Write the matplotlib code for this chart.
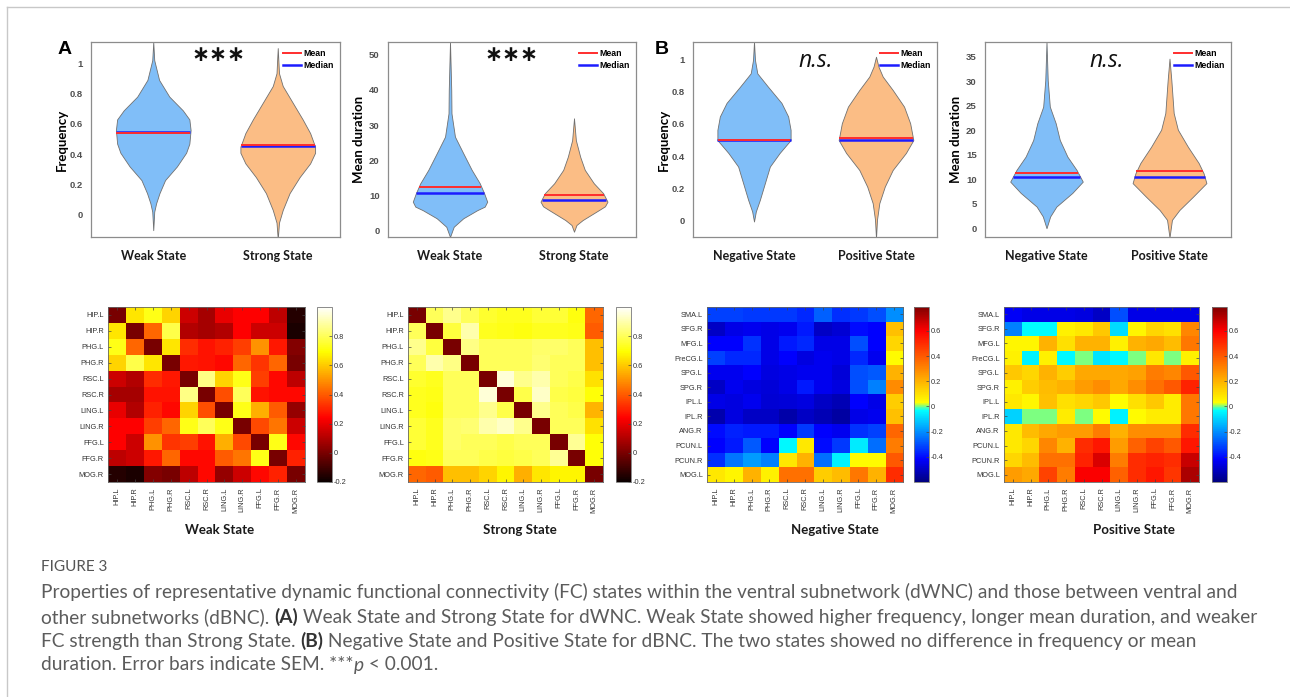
import numpy as np
import matplotlib
matplotlib.use('Agg')
import matplotlib.pyplot as plt
from matplotlib.colors import LinearSegmentedColormap
from matplotlib.lines import Line2D

W, H = 1290, 697

# ---- violin profiles: y levels and half widths (x units) ----
weak_freq_y = [1.14, 1.02, 0.89, 0.78, 0.69, 0.63, 0.56, 0.47, 0.41, 0.32, 0.23, 0.144, 0.077, 0.022, -0.10]
weak_freq_w = [0, 0.008, 0.047, 0.129, 0.237, 0.29, 0.30, 0.29, 0.264, 0.19, 0.095, 0.05, 0.023, 0.008, 0]
strong_freq_y = [1.10, 0.934, 0.85, 0.74, 0.63, 0.54, 0.45, 0.41, 0.34, 0.25, 0.144, 0.033, -0.05, -0.16]
strong_freq_w = [0, 0.01, 0.04, 0.12, 0.2, 0.26, 0.30, 0.30, 0.26, 0.176, 0.095, 0.04, 0.01, 0]

weak_dur_y = [53.6, 39.9, 33.3, 26.7, 22.0, 17.3, 13.5, 10.7, 8.3, 6.9, 5.9, 3.6, 1.2, -1.7]
weak_dur_w = [0, 0.01, 0.012, 0.04, 0.107, 0.175, 0.24, 0.275, 0.30, 0.28, 0.22, 0.107, 0.03, 0]
strong_dur_y = [31.9, 25.7, 21.0, 17.3, 13.5, 10.7, 8.3, 7.0, 5.9, 3.1, 1.7, -0.2]
strong_dur_w = [0, 0.015, 0.05, 0.087, 0.16, 0.235, 0.27, 0.25, 0.2, 0.07, 0.02, 0]

neg_freq_y = [1.11, 0.996, 0.913, 0.83, 0.73, 0.646, 0.563, 0.50, 0.42, 0.336, 0.233, 0.13, 0.058, -0.004]
neg_freq_w = [0, 0.008, 0.027, 0.115, 0.225, 0.28, 0.30, 0.30, 0.21, 0.13, 0.089, 0.048, 0.015, 0]
pos_freq_y = [1.016, 0.955, 0.893, 0.81, 0.707, 0.604, 0.50, 0.42, 0.315, 0.212, 0.109, 0.006, -0.11]
pos_freq_w = [0, 0.02, 0.055, 0.137, 0.23, 0.28, 0.306, 0.245, 0.137, 0.072, 0.027, 0.008, 0]

neg_dur_y = [38.0, 30.2, 24.8, 21.4, 18.0, 14.6, 11.9, 9.5, 7.2, 4.4, 2.4, 0.0]
neg_dur_w = [0, 0.01, 0.027, 0.075, 0.108, 0.17, 0.244, 0.295, 0.21, 0.08, 0.03, 0]
pos_dur_y = [34.6, 30.2, 23.5, 20.1, 16.6, 13.3, 11.2, 9.2, 6.4, 3.7, 1.7, -1.9]
pos_dur_w = [0, 0.015, 0.034, 0.068, 0.15, 0.237, 0.277, 0.30, 0.19, 0.08, 0.02, 0]

# mean / median per violin: (left, right)
freq_a_mean, freq_a_median = [0.543, 0.46], [0.548, 0.455]
dur_a_mean, dur_a_median = [12.5, 10.2], [10.7, 8.9]
freq_b_mean, freq_b_median = [0.498, 0.511], [0.503, 0.503]
dur_b_mean, dur_b_median = [11.3, 11.6], [10.4, 10.4]

states_a = ['Weak State', 'Strong State']
states_b = ['Negative State', 'Positive State']

# ---- FC matrices ----
rois_a = ['HIP.L', 'HIP.R', 'PHG.L', 'PHG.R', 'RSC.L', 'RSC.R', 'LING.L', 'LING.R', 'FFG.L', 'FFG.R', 'MOG.R']
rois_b = ['SMA.L', 'SFG.R', 'MFG.L', 'PreCG.L', 'SPG.L', 'SPG.R', 'IPL.L', 'IPL.R', 'ANG.R', 'PCUN.L', 'PCUN.R', 'MOG.L']

weak_fc = [
    [0.00, 0.65, 0.72, 0.62, 0.15, 0.08, 0.20, 0.24, 0.24, 0.12, -0.15],
    [0.65, 0.00, 0.42, 0.78, 0.10, 0.08, 0.10, 0.24, 0.15, 0.15, -0.17],
    [0.72, 0.42, 0.00, 0.65, 0.32, 0.27, 0.30, 0.35, 0.50, 0.28, 0.02],
    [0.62, 0.78, 0.65, 0.00, 0.28, 0.27, 0.25, 0.42, 0.33, 0.42, 0.00],
    [0.15, 0.10, 0.32, 0.28, 0.00, 0.85, 0.62, 0.72, 0.35, 0.25, 0.12],
    [0.08, 0.08, 0.27, 0.27, 0.85, 0.00, 0.38, 0.80, 0.27, 0.25, 0.25],
    [0.20, 0.10, 0.30, 0.25, 0.62, 0.38, 0.00, 0.72, 0.55, 0.40, 0.05],
    [0.24, 0.24, 0.35, 0.42, 0.72, 0.80, 0.72, 0.00, 0.37, 0.45, 0.15],
    [0.24, 0.15, 0.50, 0.33, 0.35, 0.27, 0.55, 0.37, 0.00, 0.72, 0.25],
    [0.12, 0.15, 0.28, 0.42, 0.25, 0.25, 0.40, 0.45, 0.72, 0.00, 0.30],
    [-0.15, -0.17, 0.02, 0.00, 0.12, 0.25, 0.05, 0.15, 0.25, 0.30, 0.00],
]
strong_fc = [
    [0.00, 0.80, 0.86, 0.80, 0.75, 0.73, 0.73, 0.76, 0.76, 0.71, 0.42],
    [0.80, 0.00, 0.77, 0.90, 0.73, 0.72, 0.71, 0.73, 0.73, 0.72, 0.40],
    [0.86, 0.77, 0.00, 0.85, 0.80, 0.80, 0.80, 0.82, 0.82, 0.80, 0.58],
    [0.80, 0.90, 0.85, 0.00, 0.80, 0.80, 0.80, 0.83, 0.80, 0.80, 0.58],
    [0.75, 0.73, 0.80, 0.80, 0.00, 0.95, 0.86, 0.90, 0.80, 0.78, 0.64],
    [0.73, 0.72, 0.80, 0.80, 0.95, 0.00, 0.78, 0.93, 0.78, 0.77, 0.70],
    [0.73, 0.71, 0.80, 0.80, 0.86, 0.78, 0.00, 0.86, 0.80, 0.78, 0.56],
    [0.76, 0.73, 0.82, 0.83, 0.90, 0.93, 0.86, 0.00, 0.80, 0.80, 0.64],
    [0.76, 0.73, 0.82, 0.80, 0.80, 0.78, 0.80, 0.80, 0.00, 0.87, 0.70],
    [0.71, 0.72, 0.80, 0.80, 0.78, 0.77, 0.78, 0.80, 0.87, 0.00, 0.70],
    [0.42, 0.40, 0.58, 0.58, 0.62, 0.68, 0.55, 0.65, 0.68, 0.68, 0.00],
]
negative_fc = [
    [-0.32, -0.32, -0.33, -0.33, -0.33, -0.36, -0.27, -0.35, -0.33, -0.30, -0.20],
    [-0.50, -0.45, -0.44, -0.45, -0.44, -0.38, -0.50, -0.48, -0.40, -0.42, 0.17],
    [-0.42, -0.42, -0.34, -0.45, -0.38, -0.36, -0.45, -0.45, -0.30, -0.42, 0.12],
    [-0.32, -0.36, -0.36, -0.45, -0.42, -0.46, -0.44, -0.45, -0.36, -0.44, 0.04],
    [-0.44, -0.44, -0.42, -0.46, -0.45, -0.44, -0.44, -0.47, -0.30, -0.28, 0.20],
    [-0.50, -0.44, -0.46, -0.47, -0.45, -0.38, -0.44, -0.46, -0.30, -0.22, 0.29],
    [-0.45, -0.46, -0.44, -0.48, -0.47, -0.46, -0.50, -0.52, -0.42, -0.45, 0.14],
    [-0.53, -0.46, -0.50, -0.50, -0.54, -0.50, -0.52, -0.55, -0.45, -0.44, 0.17],
    [-0.40, -0.37, -0.38, -0.38, -0.42, -0.33, -0.42, -0.44, -0.34, -0.32, 0.37],
    [-0.42, -0.38, -0.28, -0.42, -0.04, 0.08, -0.40, -0.33, -0.06, -0.25, 0.32],
    [-0.35, -0.24, -0.18, -0.22, 0.08, 0.20, -0.25, -0.05, 0.04, 0.04, 0.40],
    [0.08, 0.05, 0.20, 0.06, 0.35, 0.35, 0.14, 0.18, 0.33, 0.20, 0.50],
]
positive_fc = [
    [-0.43, -0.45, -0.45, -0.45, -0.46, -0.50, -0.30, -0.45, -0.45, -0.45, -0.45],
    [-0.22, -0.03, -0.03, 0.06, 0.08, 0.15, -0.08, 0.05, 0.12, 0.10, 0.30],
    [0.05, 0.05, 0.20, 0.10, 0.20, 0.20, 0.06, 0.20, 0.22, 0.18, 0.33],
    [0.06, -0.05, 0.06, -0.04, 0.00, -0.07, -0.04, 0.00, 0.08, 0.00, 0.06],
    [0.15, 0.12, 0.20, 0.14, 0.22, 0.22, 0.22, 0.24, 0.32, 0.30, 0.40],
    [0.06, 0.14, 0.18, 0.20, 0.25, 0.28, 0.22, 0.28, 0.35, 0.40, 0.52],
    [0.08, 0.05, 0.17, 0.10, 0.12, 0.15, 0.03, 0.10, 0.15, 0.07, 0.33],
    [-0.10, 0.00, 0.00, 0.07, 0.00, 0.04, -0.05, 0.04, 0.07, 0.07, 0.33],
    [0.08, 0.18, 0.22, 0.25, 0.25, 0.32, 0.20, 0.28, 0.28, 0.28, 0.50],
    [0.08, 0.12, 0.30, 0.20, 0.50, 0.55, 0.25, 0.38, 0.45, 0.40, 0.55],
    [0.12, 0.18, 0.35, 0.35, 0.52, 0.65, 0.32, 0.50, 0.52, 0.50, 0.68],
    [0.25, 0.22, 0.45, 0.32, 0.60, 0.60, 0.38, 0.50, 0.55, 0.48, 0.72],
]

BLUE_FILL = '#80bef8'
ORANGE_FILL = '#fbbd85'
TICK_FONT = ['Liberation Sans', 'DejaVu Sans']
LABEL_FONT = ['Lato', 'DejaVu Sans']

# jet-like map with the cyan-green-yellow band squeezed around 0
vmin_b, vmax_b = -0.6, 0.79
stops = [(-0.6, (0, 0, 0.5)), (-0.42, (0, 0, 1)), (-0.03, (0, 1, 1)), (0.0, (0.5, 1, 0.5)),
         (0.03, (1, 1, 0)), (0.6, (1, 0, 0)), (0.79, (0.5, 0, 0))]
fc_cmap = LinearSegmentedColormap.from_list(
    'fc', [((v - vmin_b) / (vmax_b - vmin_b), c) for v, c in stops])

fig = plt.figure(figsize=(W / 100, H / 100), dpi=100)


def rect(x0, y0, x1, y1):
    return [x0 / W, 1 - y1 / H, (x1 - x0) / W, (y1 - y0) / H]


def draw_violin(ax, pos, ys, ws, color, mean, median):
    ys = np.array(ys)
    ws = np.array(ws)
    ax.fill_betweenx(ys, pos - ws, pos + ws, facecolor=color, edgecolor='#707070', linewidth=0.6)
    order = np.argsort(ys)
    for val, c, lw in ((median, '#1c1cff', 1.8), (mean, '#ff2d2d', 1.4)):
        hw = np.interp(val, ys[order], ws[order])
        ax.plot([pos - hw, pos + hw], [val, val], color=c, lw=lw, solid_capstyle='butt')


def violin_panel(box, profiles, colors, means, medians, ylim, yticks, ylabel, xlabels, mark, mark_x):
    ax = fig.add_axes(rect(*box))
    for i, ((ys, ws), col) in enumerate(zip(profiles, colors)):
        draw_violin(ax, i + 1, ys, ws, col, means[i], medians[i])
    ax.set_xlim(0.5, 2.5)
    ax.set_ylim(*ylim)
    ax.set_xticks([1, 2])
    ax.set_xticklabels(xlabels, family=LABEL_FONT, fontweight='bold', fontsize=9, color='#1a1a1a')
    ax.set_yticks(yticks)
    ax.set_yticklabels([f'{t:g}' for t in yticks], family=TICK_FONT, fontweight='bold',
                       fontsize=6.8, color='#505050')
    ax.tick_params(axis='both', length=0)
    ax.tick_params(axis='x', pad=9)
    ax.tick_params(axis='y', pad=6)
    ax.set_ylabel(ylabel, family=LABEL_FONT, fontweight='bold', fontsize=9.5)
    ax.yaxis.set_label_coords(-23 / (box[2] - box[0]), 0.5)
    for sp in ax.spines.values():
        sp.set_color('#8c8c8c')
        sp.set_linewidth(0.9)
    handles = [Line2D([], [], color='#ff2d2d', lw=1.4), Line2D([], [], color='#1c1cff', lw=1.8)]
    ax.legend(handles, ['Mean', 'Median'], loc='upper right', frameon=False,
              prop=dict(family=TICK_FONT, weight='bold', size=6.3), handlelength=2.0,
              handletextpad=0.25, labelspacing=0.35, borderaxespad=0.35)
    if mark == '***':
        fig.text(mark_x / W, 1 - 55 / H, '\u2217\u2217\u2217', ha='center', va='center', fontsize=15.5,
                 fontweight='bold', family=['DejaVu Sans'], color='#111111')
    else:
        fig.text(mark_x / W, 1 - 61 / H, mark, ha='center', va='center', fontsize=16.5,
                 style='italic', family=['Open Sans', 'DejaVu Sans'], color='#111111')
    return ax


violin_panel((91, 42, 340, 237), [(weak_freq_y, weak_freq_w), (strong_freq_y, strong_freq_w)],
             [BLUE_FILL, ORANGE_FILL], freq_a_mean, freq_a_median, (-0.145, 1.14),
             [0, 0.2, 0.4, 0.6, 0.8, 1], 'Frequency', states_a, '***', 218)
violin_panel((388, 42, 636, 237), [(weak_dur_y, weak_dur_w), (strong_dur_y, strong_dur_w)],
             [BLUE_FILL, ORANGE_FILL], dur_a_mean, dur_a_median, (-1.7, 53.5),
             [0, 10, 20, 30, 40, 50], 'Mean duration', states_a, '***', 511)
violin_panel((693, 42, 937, 237), [(neg_freq_y, neg_freq_w), (pos_freq_y, pos_freq_w)],
             [BLUE_FILL, ORANGE_FILL], freq_b_mean, freq_b_median, (-0.1, 1.107),
             [0, 0.2, 0.4, 0.6, 0.8, 1], 'Frequency', states_b, 'n.s.', 816)
violin_panel((985, 42, 1231, 237), [(neg_dur_y, neg_dur_w), (pos_dur_y, pos_dur_w)],
             [BLUE_FILL, ORANGE_FILL], dur_b_mean, dur_b_median, (-1.8, 38.0),
             [0, 5, 10, 15, 20, 25, 30, 35], 'Mean duration', states_b, 'n.s.', 1107)

fig.text(65 / W, 1 - 50 / H, 'A', ha='center', va='center', fontsize=14, fontweight='bold', family=TICK_FONT)
fig.text(662 / W, 1 - 50 / H, 'B', ha='center', va='center', fontsize=14, fontweight='bold', family=TICK_FONT)


def heat_panel(box, cbox, mat, rows, cmap, vmin, vmax, cticks, title, title_x):
    ax = fig.add_axes(rect(*box))
    im = ax.imshow(np.array(mat), cmap=cmap, vmin=vmin, vmax=vmax, aspect='auto',
                   interpolation='nearest')
    ax.set_xticks(range(len(rois_a)))
    ax.set_xticklabels(rois_a, rotation=90, family=TICK_FONT, fontsize=5.3, color='#333333')
    ax.set_yticks(range(len(rows)))
    ax.set_yticklabels(rows, family=TICK_FONT, fontsize=5.3, color='#333333')
    ax.tick_params(direction='in', length=2, width=0.5, top=True, right=True, color='#444444')
    ax.tick_params(axis='x', pad=4)
    ax.tick_params(axis='y', pad=3)
    for sp in ax.spines.values():
        sp.set_color('#666666')
        sp.set_linewidth(0.6)
    cax = fig.add_axes(rect(*cbox))
    cb = fig.colorbar(im, cax=cax, ticks=cticks)
    cb.ax.set_yticklabels([f'{t:g}' for t in cticks], family=TICK_FONT, fontsize=5.3, color='#333333')
    cb.ax.tick_params(direction='in', length=2, width=0.5, pad=1, color='#444444')
    cb.outline.set_edgecolor('#777777')
    cb.outline.set_linewidth(0.6)
    fig.text(title_x / W, 1 - 530 / H, title, ha='center', va='center', family=LABEL_FONT,
             fontweight='bold', fontsize=9.5, color='#1a1a1a')


ticks_a = [-0.2, 0, 0.2, 0.4, 0.6, 0.8]
ticks_b = [-0.4, -0.2, 0, 0.2, 0.4, 0.6]
heat_panel((108, 307, 305, 482), (317, 307, 332, 482), weak_fc, rois_a, 'hot', -0.2, 1.0,
           ticks_a, 'Weak State', 220)
heat_panel((408, 307, 603, 482), (616, 307, 631, 482), strong_fc, rois_a, 'hot', -0.2, 1.0,
           ticks_a, 'Strong State', 520)
heat_panel((707, 307, 903, 482), (914, 307, 929, 482), negative_fc, rois_b, fc_cmap, vmin_b, vmax_b,
           ticks_b, 'Negative State', 835)
heat_panel((1004, 307, 1199, 482), (1212, 307, 1227, 482), positive_fc, rois_b, fc_cmap, vmin_b, vmax_b,
           ticks_b, 'Positive State', 1134)

# page frame
fig.add_artist(Line2D([7 / W, 7 / W], [0, 1 - 7 / H], transform=fig.transFigure, color='#c8c8c8', lw=1))
fig.add_artist(Line2D([7 / W, 1], [1 - 7 / H, 1 - 7 / H], transform=fig.transFigure, color='#c8c8c8', lw=1))

# ---- caption ----
CAP_FONT = ['Lato', 'DejaVu Sans']
CAP_COLOR = '#5c5c5c'
renderer = fig.canvas.get_renderer()


def str_width(s, size, weight='normal', style='normal'):
    t = fig.text(0, 0, s + '|', fontsize=size, family=CAP_FONT, fontweight=weight, fontstyle=style)
    r = fig.text(0, 0, '|', fontsize=size, family=CAP_FONT, fontweight=weight, fontstyle=style)
    w = t.get_window_extent(renderer).width - r.get_window_extent(renderer).width
    t.remove()
    r.remove()
    return w


def style_of(st):
    return ('bold' if st == 'b' else 'normal'), ('italic' if st == 'i' else 'normal')


caption = [
    [('Properties of representative dynamic functional connectivity (FC) states within the ventral '
      'subnetwork (dWNC) and those between ventral and', 'n')],
    [('other subnetworks (dBNC). ', 'n'), ('(A)', 'b'),
     (' Weak State and Strong State for dWNC. Weak State showed higher frequency, longer mean '
      'duration, and weaker', 'n')],
    [('FC strength than Strong State. ', 'n'), ('(B)', 'b'),
     (' Negative State and Positive State for dBNC. The two states showed no difference in '
      'frequency or mean', 'n')],
    [('duration. Error bars indicate SEM. ***', 'n'), ('p', 'i'), (' < 0.001.', 'n')],
]
cap_y = [592, 617, 641, 665]
cap_x0 = 41
base = 12
widest = max(sum(str_width(s, base, *style_of(st)) for s, st in line) for line in caption)
cap_size = base * 1212 / widest

fig.text(cap_x0 / W, 1 - 567 / H, 'FIGURE 3', fontsize=cap_size * 0.8, family=CAP_FONT,
         color='#555555', va='center', ha='left')
for line, y in zip(caption, cap_y):
    x = cap_x0
    for s, st in line:
        weight, style = style_of(st)
        fig.text(x / W, 1 - y / H, s, fontsize=cap_size, family=CAP_FONT, fontweight=weight,
                 fontstyle=style, color='#333333' if st == 'b' else CAP_COLOR, va='center', ha='left')
        x += str_width(s, cap_size, weight, style)

fig.savefig('out.png', dpi=100)
